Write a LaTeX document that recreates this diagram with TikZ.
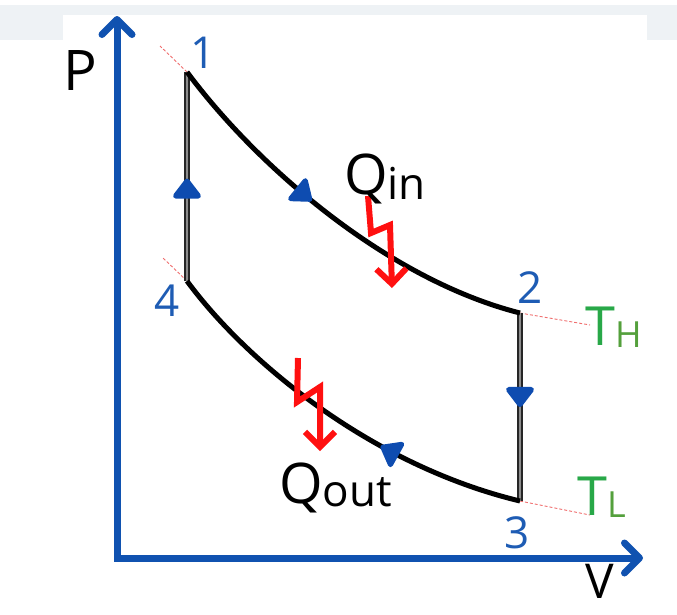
\documentclass[tikz,border=0pt]{standalone}
\usepackage{fontspec}
\setmainfont{Open Sans}
\usetikzlibrary{arrows.meta,decorations.markings}
\definecolor{axisblue}{RGB}{16,82,176}
\definecolor{numblue}{RGB}{30,92,180}
\definecolor{triblue}{RGB}{14,76,176}
\definecolor{tgreen}{RGB}{40,168,72}
\definecolor{sgreen}{RGB}{84,160,60}
\definecolor{qred}{RGB}{255,16,16}
\definecolor{dashred}{RGB}{240,110,110}
\definecolor{bandgray}{RGB}{238,242,245}
\begin{document}
\begin{tikzpicture}[x=1pt,y=-1pt,
  axisline/.style={draw=axisblue,line width=7pt,line cap=round,line join=miter,
    {Straight Barb[length=15pt,width=30pt,round]}-{Straight Barb[length=15pt,width=30pt,round]}},
  curveline/.style={draw=black,line width=5pt,line join=round},
  vline/.style={draw=black!85,line width=5.5pt,postaction={draw=black!45,line width=2.5pt}},
  flowmark/.style={postaction={decorate},decoration={markings,
    mark=at position #1 with {\arrow[color=triblue]{Triangle[length=22pt,width=32pt,round]}}}},
  backmark/.style={postaction={decorate},decoration={markings,
    mark=at position #1 with {\arrowreversed[color=triblue]{Triangle[length=22pt,width=32pt,round]}}}},
  heatarrow/.style={draw=qred,line width=6pt,line join=miter,-{Straight Barb[length=15pt,width=30pt]}},
  isoline/.style={draw=dashred,line width=0.9pt,dash pattern=on 3pt off 2pt},
  numlabel/.style={text=numblue,inner sep=0pt,anchor=base,font=\fontsize{44}{44}\selectfont},
  axlabel/.style={text=black,inner sep=0pt,anchor=base,font=\fontsize{56}{56}\selectfont},
  qlabel/.style={text=black,inner sep=0pt,anchor=base west},
  tlabel/.style={text=tgreen,inner sep=0pt,anchor=base west}
]
\useasboundingbox (0,0) rectangle (677,614);
\fill[white] (0,0) rectangle (677,614);
\fill[bandgray] (0,5) rectangle (677,40);
\fill[white] (63,15) rectangle (647,41);

% axes
\coordinate (O) at (117,558);
\coordinate (ytip) at (117,16);
\coordinate (xtip) at (643,558);
\draw[axisline] (ytip) -- (O) -- (xtip);

% states
\coordinate (p1) at (187,72);
\coordinate (p2) at (520,313);
\coordinate (p3) at (520,501);
\coordinate (p4) at (187,281);

% isotherm extensions
\coordinate (e1) at (160,46);
\coordinate (e4) at (162,257);
\coordinate (e2) at (590,325);
\coordinate (e3) at (590,515);
\draw[isoline] (p1) -- (e1);
\draw[isoline] (p4) -- (e4);
\draw[isoline] (p2) -- (e2);
\draw[isoline] (p3) -- (e3);

% cycle
\draw[vline,flowmark=0.49] (p4) -- (p1);
\draw[vline,flowmark=0.50] (p2) -- (p3);
\draw[curveline,flowmark=0.43] (p1) .. controls (260,170) and (390,280) .. (p2);
\draw[curveline,backmark=0.63] (p4) .. controls (245,360) and (370,465) .. (p3);

% heat arrows
\coordinate (qa1) at (368,196);
\coordinate (qa2) at (371,233);
\coordinate (qa3) at (390,225);
\coordinate (qa4) at (392,288);
\draw[heatarrow] (qa1) -- (qa2) -- (qa3) -- (qa4);
\coordinate (qb1) at (298,358);
\coordinate (qb2) at (297,402);
\coordinate (qb3) at (320,387);
\coordinate (qb4) at (320,451);
\draw[heatarrow] (qb1) -- (qb2) -- (qb3) -- (qb4);

% labels
\node[axlabel] (lP) at (80,90) {P};
\node[axlabel,font=\fontsize{48}{48}\selectfont] (lV) at (600,598) {V};
\node[numlabel] (l1) at (203,68) {1};
\node[numlabel] (l2) at (530,303) {2};
\node[numlabel] (l3) at (517,548) {3};
\node[numlabel] (l4) at (167,316) {4};
\node[qlabel] (qin) at (344,194) {\fontsize{56}{56}\selectfont Q\raisebox{-5pt}{\fontsize{44}{44}\selectfont in}};
\node[qlabel] (qout) at (279,503) {\fontsize{56}{56}\selectfont Q\raisebox{-3pt}{\fontsize{44}{44}\selectfont out}};
\node[tlabel] (th) at (585,345) {\fontsize{54}{54}\selectfont T\raisebox{-2pt}{\color{sgreen}\fontsize{36}{36}\selectfont H}};
\node[tlabel] (tl) at (577,515) {\fontsize{54}{54}\selectfont T\raisebox{-2pt}{\color{sgreen}\fontsize{36}{36}\selectfont L}};
\end{tikzpicture}
\end{document}
